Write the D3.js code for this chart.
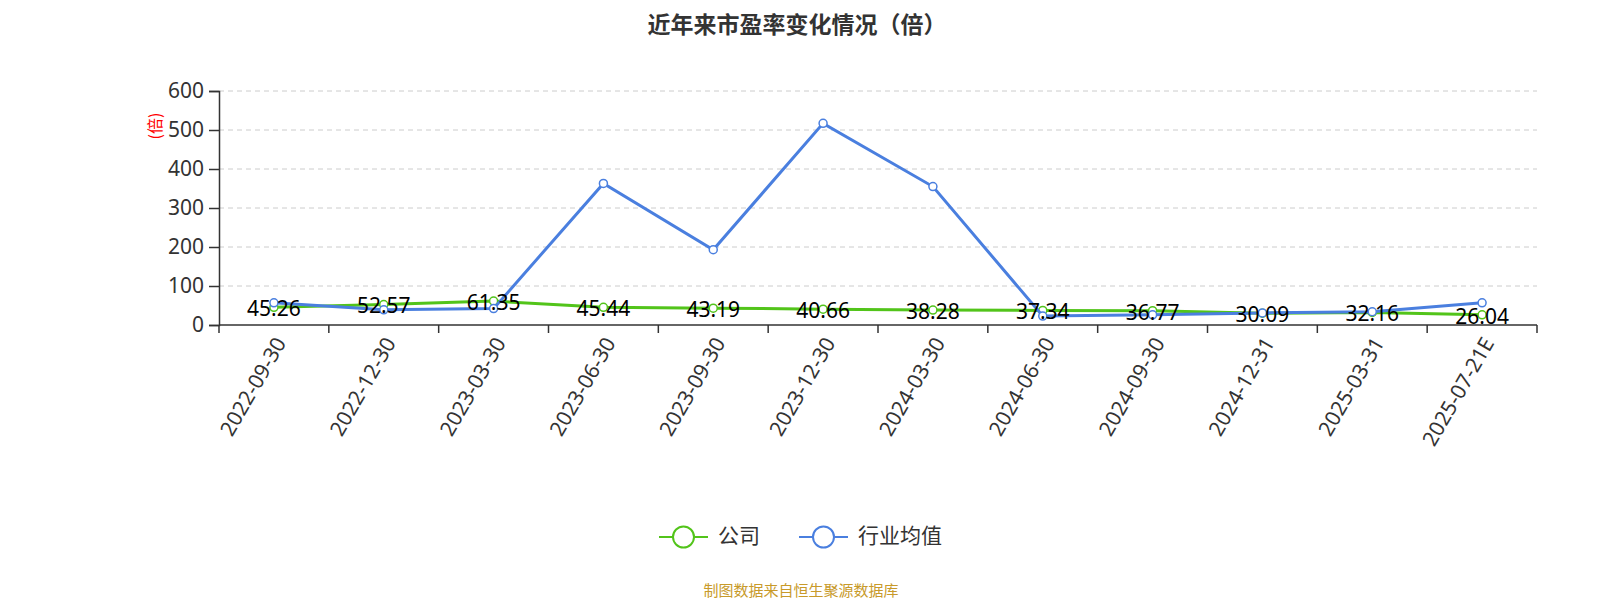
<!DOCTYPE html>
<html><head><meta charset="utf-8">
<script src="https://cdn.jsdelivr.net/npm/d3@7"></script>
<style>body{margin:0;background:#fff;font-family:"Noto Sans CJK SC","Noto Sans",sans-serif}</style>
</head><body><svg id="c" width="1600" height="600"></svg>
<script>
const categories=["2022-09-30","2022-12-30","2023-03-30","2023-06-30","2023-09-30","2023-12-30","2024-03-30","2024-06-30","2024-09-30","2024-12-31","2025-03-31","2025-07-21E"];
const company=[45.26,52.57,61.35,45.44,43.19,40.66,38.28,37.34,36.77,30.09,32.16,26.04];
const industry=[57,39,42,363,193,517,355,23,26,31,34,57];
const yTicks=[0,100,200,300,400,500,600];
const svg=d3.select("#c");
const L=219,R=1537,B=325,T=91;
const x=d3.scaleBand().domain(categories).range([L,R]);
const y=d3.scaleLinear().domain([0,600]).range([B,T]);
svg.append("text").attr("x",797).attr("y",33).attr("text-anchor","middle").attr("font-size",23).attr("font-weight","bold").attr("fill","#333").text("近年来市盈率变化情况（倍）");
yTicks.forEach(t=>{ if(t>0) svg.append("line").attr("x1",L).attr("x2",R).attr("y1",y(t)).attr("y2",y(t)).attr("stroke","#ccc").attr("stroke-dasharray","5,4");});
const ya=svg.append("g").attr("transform",`translate(${L},0)`).call(d3.axisLeft(y).tickValues(yTicks).tickSize(10).tickPadding(5));
ya.selectAll("text").attr("font-size",21).attr("fill","#333").attr("font-family","Noto Sans");
ya.selectAll("line,path").attr("stroke","#333").attr("stroke-width",1.5);
svg.append("line").attr("x1",L).attr("x2",R).attr("y1",B).attr("y2",B).attr("stroke","#333").attr("stroke-width",1.5);
for(let i=0;i<=categories.length;i++){const px=L+i*x.bandwidth();svg.append("line").attr("x1",px).attr("x2",px).attr("y1",B).attr("y2",B+8).attr("stroke","#333").attr("stroke-width",1.5);}
categories.forEach(c=>{const cx=x(c)+x.bandwidth()/2;svg.append("text").attr("transform",`translate(${cx+8},340) rotate(-60)`).attr("text-anchor","end").attr("dominant-baseline","middle").attr("font-size",21).attr("fill","#333").attr("font-family","Noto Sans").text(c);});
svg.append("text").attr("transform","translate(157,126) rotate(-90)").attr("text-anchor","middle").attr("dominant-baseline","middle").attr("font-size",16).attr("fill","red").text("(倍)");
const cx=c=>x(c)+x.bandwidth()/2;
const line=d3.line().x((d,i)=>cx(categories[i])).y(d=>y(d));
function series(data,color){
 svg.append("path").attr("d",line(data)).attr("fill","none").attr("stroke",color).attr("stroke-width",3);
 data.forEach((d,i)=>svg.append("circle").attr("cx",cx(categories[i])).attr("cy",y(d)).attr("r",4).attr("fill","#fff").attr("stroke",color).attr("stroke-width",1.5));
}
series(company,"#52c41a");
series(industry,"#4a7fdf");
company.forEach((d,i)=>svg.append("text").attr("x",cx(categories[i])).attr("y",y(d)+9).attr("text-anchor","middle").attr("font-size",21).attr("fill","#000").attr("font-family","Noto Sans").text(d.toFixed(2)));
function leg(x0,color,label){
 svg.append("line").attr("x1",x0).attr("x2",x0+49).attr("y1",537).attr("y2",537).attr("stroke",color).attr("stroke-width",2);
 svg.append("circle").attr("cx",x0+24.5).attr("cy",537).attr("r",10.5).attr("fill","#fff").attr("stroke",color).attr("stroke-width",2);
 svg.append("text").attr("x",x0+59).attr("y",537).attr("dominant-baseline","middle").attr("font-size",21).attr("fill","#333").text(label);
}
leg(659,"#52c41a","公司");leg(799,"#4a7fdf","行业均值");
svg.append("text").attr("x",801).attr("y",596).attr("text-anchor","middle").attr("font-size",15).attr("fill","#c89a2a").text("制图数据来自恒生聚源数据库");
</script></body></html>
